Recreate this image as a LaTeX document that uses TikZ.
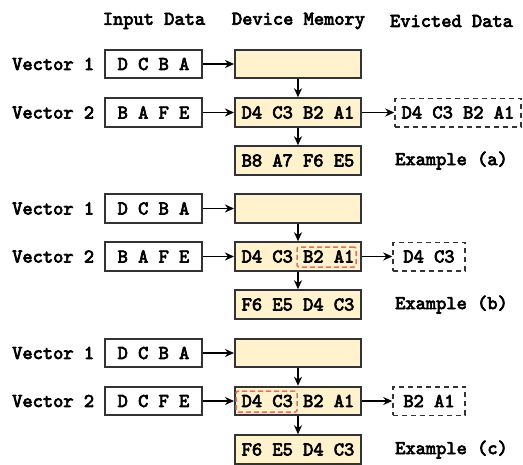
\documentclass[tikz,border=0pt]{standalone}
\usepackage{fontspec}
\setmonofont{lmmono10-regular}[Extension=.otf,AutoFakeBold=3.6]
\usetikzlibrary{arrows.meta}
\definecolor{memfill}{HTML}{FFF2CC}
\definecolor{edge}{HTML}{333333}
\definecolor{redd}{HTML}{EA6B66}
\begin{document}
\begin{tikzpicture}[x=1pt,y=-1pt,
  font=\fontsize{19.5}{22}\selectfont\ttfamily\bfseries,
  box/.style={draw=edge,line width=2pt,minimum height=28.5pt,inner sep=0pt,anchor=center},
  inbox/.style={box,fill=white,minimum width=97pt},
  membox/.style={box,fill=memfill,minimum width=126pt},
  evbox/.style={draw=edge,line width=1.5pt,dash pattern=on 5pt off 4pt,minimum height=28.5pt,inner sep=0pt},
  hl/.style={draw=redd,line width=1.5pt,dash pattern=on 5pt off 3pt,rounded corners=2pt,inner sep=0pt},
  lab/.style={anchor=west,inner sep=0pt},
  hdr/.style={inner sep=0pt},
  arr/.style={draw=black,line width=1.6pt,-{Stealth[length=9pt,width=8pt]}},
]
\useasboundingbox (0,0) rectangle (523,464);
% headers
\node[hdr] (h1) at (154,21) {Input Data};
\node[hdr] (h2) at (298.5,21) {Device Memory};
\node[hdr] (h3) at (451.5,21) {Evicted Data};
% ---------- block (a)
\node[lab] (v1a) at (12,64) {Vector 1};
\node[inbox] (in1a) at (153.5,64) {D C B A};
\node[membox] (m1a) at (298,64) {};
\node[lab] (v2a) at (12,112.5) {Vector 2};
\node[inbox] (in2a) at (153.5,112.5) {B A F E};
\node[membox] (m2a) at (298,112.5) {D4 C3 B2 A1};
\node[evbox,minimum width=126pt] (ea) at (458,112.5) {D4 C3 B2 A1};
\node[membox] (ra) at (298,160.5) {B8 A7 F6 E5};
\node[lab] (xa) at (395,160.5) {Example (a)};
\draw[arr] (in1a) -- (m1a);
\draw[arr] (m1a) -- (m2a);
\draw[arr] (in2a) -- (m2a);
\draw[arr] (m2a) -- (ea);
\draw[arr] (m2a) -- (ra);
% ---------- block (b)
\node[lab] (v1b) at (12,208.5) {Vector 1};
\node[inbox] (in1b) at (153.5,208.5) {D C B A};
\node[membox] (m1b) at (298,208.5) {};
\node[lab] (v2b) at (12,256.5) {Vector 2};
\node[inbox] (in2b) at (153.5,256.5) {B A F E};
\node[membox] (m2b) at (298,256.5) {D4 C3 B2 A1};
\node[hl,minimum width=59pt,minimum height=20pt] (hlb) at (326.5,257) {};
\node[evbox,minimum width=72pt] (eb) at (429,256.5) {D4 C3};
\node[membox] (rb) at (298,304.5) {F6 E5 D4 C3};
\node[lab] (xb) at (395,304.5) {Example (b)};
\draw[arr] (in1b) -- (m1b);
\draw[arr] (m1b) -- (m2b);
\draw[arr] (in2b) -- (m2b);
\draw[arr] (m2b) -- (eb);
\draw[arr] (m2b) -- (rb);
% ---------- block (c)
\node[lab] (v1c) at (12,353) {Vector 1};
\node[inbox] (in1c) at (153.5,353) {D C B A};
\node[membox] (m1c) at (298,353) {};
\node[lab] (v2c) at (12,401) {Vector 2};
\node[inbox] (in2c) at (153.5,401) {D C F E};
\node[membox] (m2c) at (298,401) {D4 C3 B2 A1};
\node[hl,minimum width=61pt,minimum height=21pt] (hlc) at (266.5,401.5) {};
\node[evbox,minimum width=72pt] (ec) at (429,401) {B2 A1};
\node[membox] (rc) at (298,449.5) {F6 E5 D4 C3};
\node[lab] (xc) at (395,449.5) {Example (c)};
\draw[arr] (in1c) -- (m1c);
\draw[arr] (m1c) -- (m2c);
\draw[arr] (in2c) -- (m2c);
\draw[arr] (m2c) -- (ec);
\draw[arr] (m2c) -- (rc);
\end{tikzpicture}
\end{document}
